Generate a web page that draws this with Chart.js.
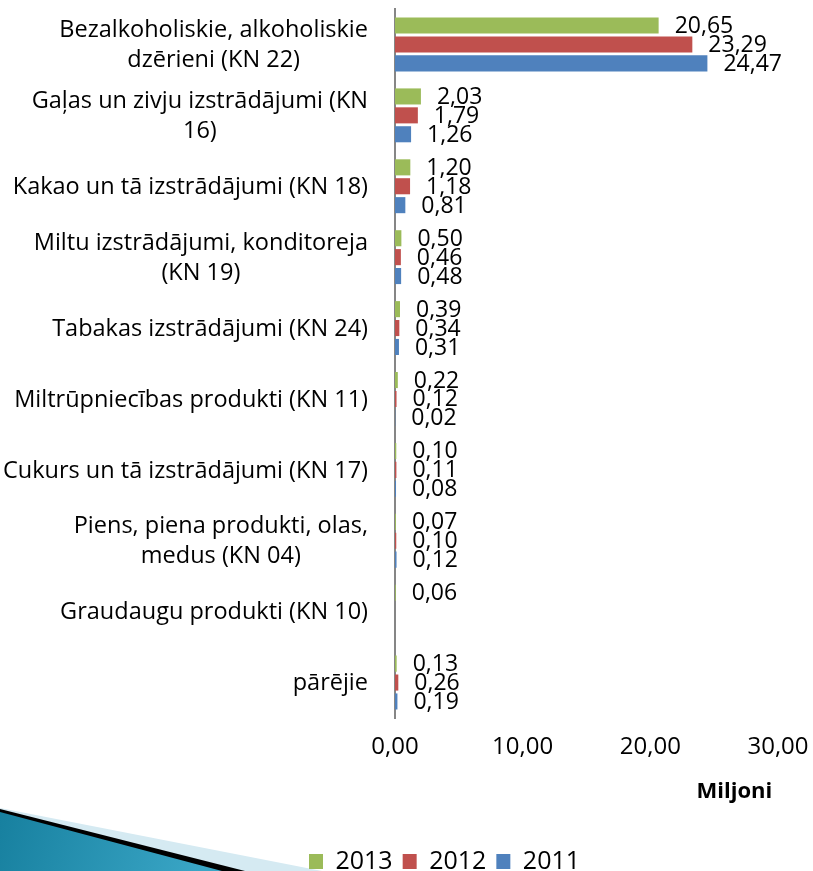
<!DOCTYPE html>
<html>
<head>
<meta charset="utf-8">
<script src="https://cdn.jsdelivr.net/npm/chart.js@4/dist/chart.umd.min.js"></script>
<style>
  html, body { margin: 0; padding: 0; background: #fff; }
  #wrap { width: 813px; height: 871px; }
</style>
</head>
<body>
<div id="wrap"><canvas id="chart" width="813" height="871"></canvas></div>
<script>
const categories = [
    ['Bezalkoholiskie, alkoholiskie', 'dzērieni (KN 22)'],
    ['Gaļas un zivju izstrādājumi (KN', '16)'],
    ['Kakao un tā izstrādājumi (KN 18)'],
    ['Miltu izstrādājumi, konditoreja', '(KN 19)'],
    ['Tabakas izstrādājumi (KN 24)'],
    ['Miltrūpniecības produkti (KN 11)'],
    ['Cukurs un tā izstrādājumi (KN 17)'],
    ['Piens, piena produkti, olas,', 'medus (KN 04)'],
    ['Graudaugu produkti (KN 10)'],
    ['pārējie']
];
const years = ['2013', '2012', '2011'];
const values2013 = [20.65, 2.03, 1.20, 0.50, 0.39, 0.22, 0.10, 0.07, 0.06, 0.13];
const values2012 = [23.29, 1.79, 1.18, 0.46, 0.34, 0.12, 0.11, 0.10, null, 0.26];
const values2011 = [24.47, 1.26, 0.81, 0.48, 0.31, 0.02, 0.08, 0.12, null, 0.19];
const xTicks = [0, 10, 20, 30];

const FONT = '"Open Sans", "DejaVu Sans", sans-serif';
const fmt = v => v.toFixed(2).replace('.', ',');

// decorative swoosh in the bottom left corner
const swoosh = {
    id: 'swoosh',
    beforeDraw(chart) {
        const ctx = chart.ctx;
        ctx.save();
        ctx.fillStyle = '#d5eaf2';
        ctx.beginPath();
        ctx.moveTo(0, 808); ctx.lineTo(322, 871); ctx.lineTo(0, 871); ctx.closePath();
        ctx.fill();
        ctx.fillStyle = '#000';
        ctx.beginPath();
        ctx.moveTo(0, 809); ctx.lineTo(245, 871); ctx.lineTo(0, 871); ctx.closePath();
        ctx.fill();
        const g = ctx.createLinearGradient(0, 812, 200, 871);
        g.addColorStop(0, '#17809f');
        g.addColorStop(1, '#3aa6c6');
        ctx.fillStyle = g;
        ctx.beginPath();
        ctx.moveTo(0, 812); ctx.lineTo(222, 871); ctx.lineTo(0, 871); ctx.closePath();
        ctx.fill();
        ctx.restore();
    }
};

// category labels: lines centred within a right-aligned block
const catLabels = {
    id: 'catLabels',
    afterDraw(chart) {
        const ctx = chart.ctx;
        const y = chart.scales.y;
        ctx.save();
        ctx.font = '23.5px ' + FONT;
        ctx.fillStyle = '#000';
        ctx.textAlign = 'center';
        ctx.textBaseline = 'middle';
        const right = chart.chartArea.left - 27;
        categories.forEach((lines, i) => {
            const cy = y.getPixelForTick(i);
            const w = Math.max(...lines.map(l => ctx.measureText(l).width));
            const lh = 30;
            lines.forEach((l, j) => {
                ctx.fillText(l, right - w / 2, cy + (j - (lines.length - 1) / 2) * lh + 1);
            });
        });
        ctx.restore();
    }
};

// value labels at the end of each bar
const valueLabels = {
    id: 'valueLabels',
    afterDatasetsDraw(chart) {
        const ctx = chart.ctx;
        ctx.save();
        ctx.font = '23px ' + FONT;
        ctx.fillStyle = '#000';
        ctx.textAlign = 'left';
        ctx.textBaseline = 'middle';
        chart.data.datasets.forEach((ds, di) => {
            chart.getDatasetMeta(di).data.forEach((bar, i) => {
                const v = ds.data[i];
                if (v === null) return;
                ctx.fillText(fmt(v), bar.x + 16, bar.y + 1);
            });
        });
        ctx.restore();
    }
};

new Chart(document.getElementById('chart'), {
    type: 'bar',
    data: {
        labels: categories,
        datasets: [
            { label: years[0], data: values2013, backgroundColor: '#9bbb59' },
            { label: years[1], data: values2012, backgroundColor: '#c0504d' },
            { label: years[2], data: values2011, backgroundColor: '#4f81bd' }
        ]
    },
    options: {
        indexAxis: 'y',
        responsive: false,
        animation: false,
        categoryPercentage: 0.8,
        barPercentage: 0.85,
        layout: { padding: { left: 76, top: 9, right: 0, bottom: -13 } },
        plugins: {
            tooltip: { enabled: false },
            legend: {
                position: 'bottom',
                labels: {
                    color: '#000',
                    font: { family: FONT, size: 25 },
                    boxWidth: 14,
                    boxHeight: 15,
                    padding: 10
                }
            }
        },
        scales: {
            y: {
                grid: { display: false },
                border: { display: true, color: '#868686', width: 2 },
                ticks: { display: false },
                afterFit(s) { s.width = 319; s.paddingTop = 0; s.paddingBottom = 0; }
            },
            x: {
                min: 0,
                max: 30,
                grid: { display: false, drawTicks: false },
                border: { display: false },
                afterBuildTicks(s) { s.ticks = xTicks.map(v => ({ value: v })); },
                ticks: {
                    color: '#000',
                    padding: 15,
                    font: { family: FONT, size: 24 },
                    callback: v => fmt(v)
                },
                title: {
                    display: true,
                    text: 'Miljoni\u00a0',
                    align: 'end',
                    color: '#000',
                    font: { family: FONT, size: 22, weight: 'bold' },
                    padding: { top: 4, bottom: 34 }
                },
                afterFit(s) { s.height = 121; s.paddingRight = 35; }
            }
        }
    },
    plugins: [swoosh, catLabels, valueLabels]
});
</script>
</body>
</html>
